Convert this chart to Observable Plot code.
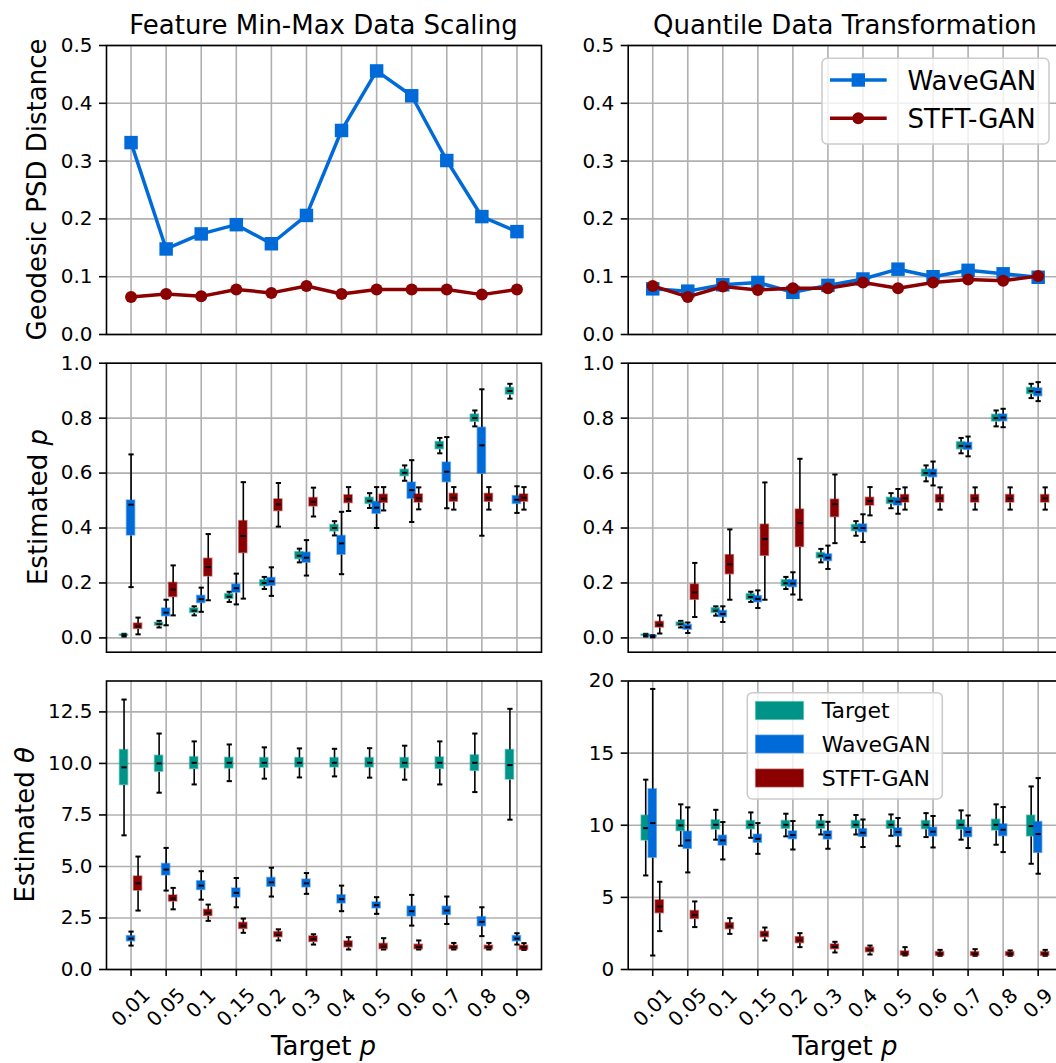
<!DOCTYPE html>
<html><head><meta charset="utf-8">
<script src="https://cdn.jsdelivr.net/npm/d3@7"></script>
<script src="https://cdn.jsdelivr.net/npm/@observablehq/plot@0.6"></script>
<style>
html,body{margin:0;padding:0;background:#fff;}
#fig{position:relative;width:1056px;height:1063px;overflow:hidden;background:#fff;font-family:"DejaVu Sans",sans-serif;}
#fig > svg{position:absolute;}
</style></head><body><div id="fig"></div>
<script>
// ---------- data ----------
const targetP = ["0.01","0.05","0.1","0.15","0.2","0.3","0.4","0.5","0.6","0.7","0.8","0.9"];
const seriesNames = ["Target","WaveGAN","STFT-GAN"];
const seriesColors = ["#009488","#006bd8","#8b0000"];

// Geodesic PSD distance
const psdMinMaxWave = [0.332,0.148,0.174,0.190,0.157,0.206,0.353,0.456,0.413,0.301,0.204,0.178];
const psdMinMaxStft = [0.065,0.070,0.066,0.078,0.072,0.084,0.070,0.078,0.078,0.078,0.069,0.078];
const psdQuantWave  = [0.079,0.075,0.086,0.090,0.073,0.085,0.096,0.113,0.100,0.111,0.105,0.099];
const psdQuantStft  = [0.084,0.065,0.083,0.077,0.080,0.080,0.090,0.080,0.090,0.095,0.093,0.101];

// Box stats: [whisker low, q1, median, q3, whisker high]
const pMinMaxTarget = [[0.005,0.008,0.010,0.012,0.015],[0.038,0.045,0.050,0.055,0.062],[0.082,0.091,0.099,0.107,0.115],[0.131,0.142,0.150,0.159,0.168],[0.178,0.189,0.200,0.210,0.222],[0.275,0.287,0.299,0.312,0.325],[0.373,0.388,0.400,0.411,0.425],[0.473,0.488,0.499,0.510,0.527],[0.572,0.589,0.601,0.612,0.628],[0.672,0.687,0.701,0.713,0.728],[0.770,0.787,0.800,0.813,0.828],[0.871,0.886,0.899,0.910,0.925]];
const pMinMaxWave = [[0.185,0.373,0.485,0.500,0.668],[0.046,0.079,0.092,0.107,0.139],[0.095,0.127,0.141,0.153,0.183],[0.122,0.165,0.181,0.194,0.234],[0.153,0.190,0.206,0.218,0.257],[0.227,0.274,0.292,0.310,0.356],[0.232,0.303,0.344,0.371,0.459],[0.400,0.452,0.474,0.495,0.549],[0.422,0.507,0.538,0.565,0.647],[0.472,0.567,0.605,0.638,0.731],[0.372,0.598,0.701,0.765,0.905],[0.455,0.488,0.503,0.516,0.552]];
const pMinMaxStft = [[0.013,0.033,0.042,0.052,0.074],[0.082,0.149,0.176,0.200,0.264],[0.137,0.224,0.258,0.288,0.378],[0.143,0.309,0.371,0.425,0.567],[0.405,0.462,0.486,0.504,0.564],[0.442,0.479,0.495,0.509,0.547],[0.462,0.491,0.505,0.519,0.549],[0.464,0.492,0.507,0.521,0.549],[0.468,0.493,0.508,0.522,0.548],[0.467,0.496,0.510,0.524,0.549],[0.467,0.496,0.510,0.524,0.549],[0.467,0.496,0.510,0.522,0.549]];

const pQuantTarget = [[0.005,0.008,0.010,0.012,0.015],[0.038,0.044,0.050,0.056,0.062],[0.081,0.091,0.099,0.108,0.115],[0.131,0.139,0.149,0.159,0.168],[0.178,0.188,0.199,0.210,0.222],[0.275,0.290,0.299,0.309,0.324],[0.372,0.389,0.400,0.411,0.425],[0.472,0.488,0.499,0.510,0.527],[0.570,0.588,0.600,0.612,0.628],[0.672,0.687,0.699,0.712,0.728],[0.770,0.788,0.800,0.812,0.828],[0.873,0.888,0.899,0.910,0.925]];
const pQuantWave = [[0.002,0.004,0.006,0.008,0.010],[0.018,0.030,0.039,0.047,0.056],[0.058,0.076,0.087,0.098,0.115],[0.109,0.130,0.142,0.152,0.173],[0.158,0.185,0.198,0.210,0.239],[0.251,0.280,0.292,0.304,0.336],[0.349,0.385,0.400,0.413,0.450],[0.452,0.482,0.496,0.508,0.542],[0.555,0.585,0.599,0.612,0.642],[0.661,0.685,0.697,0.710,0.733],[0.767,0.789,0.802,0.813,0.834],[0.862,0.880,0.895,0.908,0.931]];
const pQuantStft = [[0.016,0.038,0.048,0.058,0.082],[0.076,0.139,0.166,0.194,0.273],[0.139,0.232,0.268,0.301,0.395],[0.139,0.299,0.360,0.412,0.566],[0.139,0.331,0.418,0.467,0.652],[0.345,0.440,0.487,0.503,0.595],[0.446,0.482,0.498,0.510,0.549],[0.467,0.493,0.508,0.520,0.548],[0.467,0.493,0.508,0.520,0.548],[0.467,0.493,0.508,0.520,0.548],[0.467,0.493,0.508,0.520,0.548],[0.467,0.493,0.508,0.520,0.548]];

const thetaMinMaxTarget = [[6.51,8.95,9.81,10.65,13.10],[8.58,9.60,10.00,10.37,11.45],[8.98,9.73,10.03,10.30,11.07],[9.14,9.76,10.03,10.27,10.92],[9.26,9.79,10.03,10.26,10.78],[9.32,9.81,10.03,10.26,10.73],[9.37,9.81,10.03,10.26,10.71],[9.31,9.81,10.03,10.26,10.74],[9.21,9.77,10.03,10.26,10.86],[8.98,9.74,10.03,10.29,11.07],[8.61,9.64,10.03,10.39,11.45],[7.27,9.22,9.92,10.65,12.65]];
const thetaMinMaxWave = [[1.16,1.37,1.50,1.62,1.84],[3.83,4.57,4.85,5.12,5.90],[3.39,3.86,4.07,4.28,4.77],[3.02,3.50,3.72,3.93,4.44],[3.54,4.02,4.23,4.44,4.94],[3.67,3.99,4.18,4.36,4.68],[2.83,3.21,3.41,3.60,4.07],[2.70,2.97,3.12,3.25,3.51],[2.13,2.58,2.83,3.05,3.62],[2.21,2.65,2.86,3.05,3.54],[1.62,2.10,2.31,2.54,3.02],[1.21,1.37,1.50,1.62,1.76]];
const thetaMinMaxStft = [[2.86,3.83,4.18,4.51,5.48],[2.92,3.30,3.44,3.59,3.96],[2.36,2.60,2.75,2.89,3.15],[1.78,1.97,2.12,2.26,2.47],[1.41,1.57,1.68,1.81,1.95],[1.21,1.34,1.47,1.60,1.71],[0.97,1.08,1.23,1.36,1.57],[0.97,0.99,1.11,1.24,1.52],[0.97,0.99,1.08,1.20,1.41],[0.97,0.99,1.07,1.15,1.29],[0.97,0.99,1.07,1.15,1.29],[0.95,0.95,1.07,1.15,1.28]];

const thetaQuantTarget = [[6.52,8.95,9.80,10.66,13.16],[8.58,9.60,9.99,10.34,11.45],[9.00,9.71,10.03,10.34,11.07],[9.13,9.73,10.03,10.29,10.89],[9.23,9.76,10.03,10.29,10.80],[9.36,9.76,10.03,10.29,10.71],[9.36,9.78,10.03,10.29,10.71],[9.27,9.76,10.03,10.29,10.75],[9.18,9.73,10.03,10.29,10.84],[9.00,9.71,10.03,10.34,11.03],[8.65,9.64,10.03,10.38,11.45],[7.33,9.23,9.94,10.66,12.69]];
const thetaQuantWave = [[0.97,7.75,10.15,12.49,19.45],[6.73,8.37,8.95,9.55,11.24],[7.63,8.60,8.95,9.27,10.22],[8.02,8.79,9.06,9.34,10.15],[8.32,9.04,9.32,9.57,10.29],[8.37,9.02,9.32,9.57,10.24],[8.49,9.20,9.48,9.73,10.40],[8.55,9.23,9.53,9.78,10.50],[8.46,9.23,9.55,9.83,10.64],[8.42,9.18,9.53,9.83,10.68],[8.14,9.25,9.69,10.06,11.26],[6.64,8.09,9.39,10.22,13.27]];
const thetaQuantStft = [[2.66,3.91,4.37,4.79,6.08],[2.94,3.51,3.77,4.05,4.72],[2.47,2.80,3.00,3.21,3.56],[2.01,2.24,2.43,2.61,2.91],[1.55,1.83,2.03,2.24,2.52],[1.18,1.41,1.57,1.73,1.92],[1.04,1.20,1.34,1.50,1.66],[0.97,0.97,1.11,1.25,1.55],[0.95,0.95,1.09,1.20,1.36],[0.95,0.95,1.09,1.20,1.41],[0.95,0.95,1.09,1.20,1.32],[0.95,0.95,1.09,1.20,1.36]];

const ticksPsd = [0, 0.1, 0.2, 0.3, 0.4, 0.5];
const ticksP = [0, 0.2, 0.4, 0.6, 0.8, 1.0];
const ticksThetaLeft = [0, 2.5, 5, 7.5, 10, 12.5];
const ticksThetaRight = [0, 5, 10, 15, 20];

// ---------- layout ----------
const IDX = d3.range(targetP.length);
const X_DOMAIN = [-0.7, 11.7];
const GROUP_OFFSET = [-0.2, 0, 0.2];
const GRID = "#b0b0b0";
const COLS = [
  {left: 0, width: 580, ml: 106, mr: 39},
  {left: 580, width: 502, ml: 47.7, mr: 19.8}
];
const ROWS = [
  {top: 0, height: 348, mt: 45, mb: 14},
  {top: 348, height: 318, mt: 14.7, mb: 14.3},
  {top: 666, height: 397, mt: 14.5, mb: 94}
];
const fig = document.getElementById("fig");
const f1 = d3.format(".1f");

function boxMarks(stats, k) {
  const off = GROUP_OFFSET[k], color = seriesColors[k];
  const data = stats.map((s, i) => ({x: i + off, lo: s[0], q1: s[1], med: s[2], q3: s[3], hi: s[4]}));
  const hw = 0.115, cw = 0.075;
  const ln = {stroke: "black", strokeWidth: 1.6};
  return [
    Plot.link(data, {x1: "x", x2: "x", y1: "lo", y2: "q1", ...ln}),
    Plot.link(data, {x1: "x", x2: "x", y1: "q3", y2: "hi", ...ln}),
    Plot.link(data, {x1: d => d.x - cw, x2: d => d.x + cw, y1: "lo", y2: "lo", ...ln, strokeWidth: 2}),
    Plot.link(data, {x1: d => d.x - cw, x2: d => d.x + cw, y1: "hi", y2: "hi", ...ln, strokeWidth: 2}),
    Plot.rect(data, {x1: d => d.x - hw, x2: d => d.x + hw, y1: "q1", y2: "q3", fill: color, stroke: color, strokeOpacity: 0.45, strokeWidth: 1.6}),
    Plot.link(data, {x1: d => d.x - cw, x2: d => d.x + cw, y1: "med", y2: "med", ...ln, strokeWidth: 2})
  ];
}

function lineMarks(wave, stft) {
  return [
    Plot.line(IDX, {x: d => d, y: d => wave[d], stroke: seriesColors[1], strokeWidth: 3.5}),
    Plot.dot(IDX, {x: d => d, y: d => wave[d], symbol: "square", r: 7.6, fill: seriesColors[1]}),
    Plot.line(IDX, {x: d => d, y: d => stft[d], stroke: seriesColors[2], strokeWidth: 3.5}),
    Plot.dot(IDX, {x: d => d, y: d => stft[d], symbol: "circle", r: 6, fill: seriesColors[2]})
  ];
}

function panel(col, row, yDomain, yTicks, yFmt, dataMarks) {
  const c = COLS[col], r = ROWS[row];
  const marks = [
    Plot.ruleX(IDX, {x: d => d, stroke: GRID, strokeWidth: 1.6}),
    Plot.ruleY(yTicks, {y: d => d, stroke: GRID, strokeWidth: 1.6}),
    ...dataMarks,
    Plot.frame({stroke: "black", strokeWidth: 1.6}),
    Plot.axisY({ticks: yTicks, tickFormat: yFmt, tickSize: 7, tickPadding: 7, fontSize: 20, strokeWidth: 1.6, label: null, fill: "black", stroke: "black"})
  ];
  if (row === 2) {
    marks.push(Plot.axisX({ticks: IDX, tickSize: 7, tickFormat: () => "", strokeWidth: 1.6, label: null, stroke: "black"}));
    marks.push(Plot.text(IDX.filter(i => targetP[i].length > 3), {x: d => d, text: d => targetP[d], frameAnchor: "bottom", rotate: -45, textAnchor: "middle", lineAnchor: "middle", dy: 38, fontSize: 20, fill: "black"}));
    marks.push(Plot.text(IDX.filter(i => targetP[i].length <= 3), {x: d => d, text: d => targetP[d], frameAnchor: "bottom", rotate: -45, textAnchor: "middle", lineAnchor: "middle", dy: 34, fontSize: 20, fill: "black"}));
  }
  const svg = Plot.plot({
    width: c.width, height: r.height,
    marginLeft: c.ml, marginRight: c.mr, marginTop: r.mt, marginBottom: r.mb,
    style: {fontFamily: "DejaVu Sans", fontSize: "20px", background: "transparent", color: "black", overflow: "visible"},
    x: {type: "linear", domain: X_DOMAIN, axis: null},
    y: {type: "linear", domain: yDomain, axis: null},
    marks
  });
  svg.style.position = "absolute";
  svg.style.left = c.left + "px";
  svg.style.top = r.top + "px";
  svg.style.maxWidth = "none";
  fig.appendChild(svg);
}

// Row 1: geodesic PSD distance
panel(0, 0, [0, 0.5], ticksPsd, f1, lineMarks(psdMinMaxWave, psdMinMaxStft));
panel(1, 0, [0, 0.5], ticksPsd, f1, lineMarks(psdQuantWave, psdQuantStft));
// Row 2: estimated p
panel(0, 1, [-0.052, 1.0], ticksP, f1, [...boxMarks(pMinMaxTarget, 0), ...boxMarks(pMinMaxWave, 1), ...boxMarks(pMinMaxStft, 2)]);
panel(1, 1, [-0.052, 1.0], ticksP, f1, [...boxMarks(pQuantTarget, 0), ...boxMarks(pQuantWave, 1), ...boxMarks(pQuantStft, 2)]);
// Row 3: estimated theta
panel(0, 2, [0, 14], ticksThetaLeft, f1, [...boxMarks(thetaMinMaxTarget, 0), ...boxMarks(thetaMinMaxWave, 1), ...boxMarks(thetaMinMaxStft, 2)]);
panel(1, 2, [0, 20], ticksThetaRight, d3.format("d"), [...boxMarks(thetaQuantTarget, 0), ...boxMarks(thetaQuantWave, 1), ...boxMarks(thetaQuantStft, 2)]);

// ---------- titles, axis labels, legends ----------
const ov = d3.select(fig).append("svg")
  .attr("width", 1056).attr("height", 1063)
  .style("left", "0px").style("top", "0px").style("pointer-events", "none")
  .attr("font-family", "DejaVu Sans").attr("fill", "black");

const colCenters = [(106 + 541) / 2, (627.7 + 1062.2) / 2];
ov.append("text").attr("x", colCenters[0]).attr("y", 34).attr("text-anchor", "middle").attr("font-size", 26).text("Feature Min-Max Data Scaling");
ov.append("text").attr("x", colCenters[1]).attr("y", 34).attr("text-anchor", "middle").attr("font-size", 26).text("Quantile Data Transformation");

function yLabel(x, y, main, ital) {
  const t = ov.append("text").attr("transform", `translate(${x},${y}) rotate(-90)`).attr("text-anchor", "middle").attr("font-size", 26);
  t.append("tspan").text(main);
  if (ital) t.append("tspan").attr("font-style", "italic").text(ital);
}
yLabel(46, 189.5, "Geodesic PSD Distance");
yLabel(46.5, 507, "Estimated ", "p");
yLabel(33.5, 824.8, "Estimated ", "θ");

for (const cx of colCenters) {
  const t = ov.append("text").attr("x", cx).attr("y", 1055).attr("text-anchor", "middle").attr("font-size", 26);
  t.append("tspan").text("Target ");
  t.append("tspan").attr("font-style", "italic").text("p");
}

// legend, top right (lines + markers)
{
  const g = ov.append("g");
  g.append("rect").attr("x", 822).attr("y", 58.3).attr("width", 227).attr("height", 85.7).attr("rx", 5)
    .attr("fill", "white").attr("fill-opacity", 0.8).attr("stroke", "#cccccc").attr("stroke-width", 1.6);
  const rowsY = [80, 118.3];
  [1, 2].forEach((k, j) => {
    const y = rowsY[j];
    g.append("line").attr("x1", 830).attr("x2", 886.7).attr("y1", y).attr("y2", y).attr("stroke", seriesColors[k]).attr("stroke-width", 3.5);
    if (k === 1) g.append("rect").attr("x", 858.3 - 6.7).attr("y", y - 6.7).attr("width", 13.4).attr("height", 13.4).attr("fill", seriesColors[k]);
    else g.append("circle").attr("cx", 858.3).attr("cy", y).attr("r", 6).attr("fill", seriesColors[k]);
    g.append("text").attr("x", 907.5).attr("y", y + 9.6).attr("font-size", 26).text(seriesNames[k]);
  });
}
// legend, bottom right (patches)
{
  const g = ov.append("g");
  g.append("rect").attr("x", 747.3).attr("y", 692.7).attr("width", 195).attr("height", 106.3).attr("rx", 5)
    .attr("fill", "white").attr("fill-opacity", 0.8).attr("stroke", "#cccccc").attr("stroke-width", 1.6);
  const rowsY = [710.5, 744, 778];
  [0, 1, 2].forEach(k => {
    const y = rowsY[k];
    g.append("rect").attr("x", 755.7).attr("y", y - 8.8).attr("width", 47.6).attr("height", 17.6)
      .attr("fill", seriesColors[k]).attr("stroke", seriesColors[k]).attr("stroke-opacity", 0.45).attr("stroke-width", 1.6);
    g.append("text").attr("x", 821.7).attr("y", y + 7.9).attr("font-size", 22).text(seriesNames[k]);
  });
}
</script>
</body></html>
